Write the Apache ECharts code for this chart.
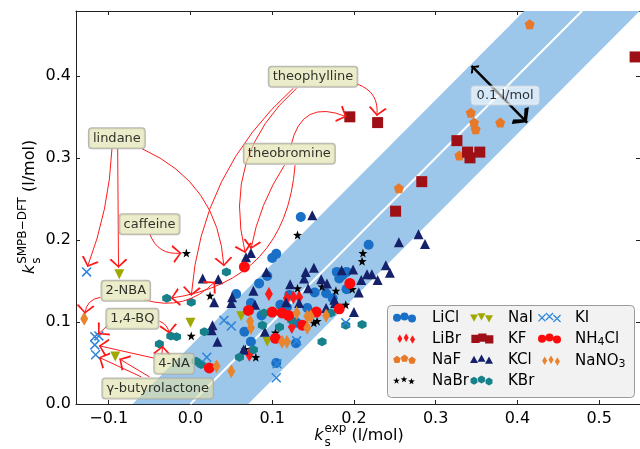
<!DOCTYPE html>
<html><head><meta charset="utf-8">
<script src="https://cdn.jsdelivr.net/npm/echarts@6/dist/echarts.min.js"></script>
<style>html,body{margin:0;padding:0;background:#fff}#c{width:640px;height:449px}</style>
</head><body><div id="c"></div>
<script>
// ---------------- data ----------------
const xTicks = [-0.1, 0.0, 0.1, 0.2, 0.3, 0.4, 0.5];
const yTicks = [0.0, 0.1, 0.2, 0.3, 0.4];
const xRange = [-0.14, 0.55];
const yRange = [0.0, 0.479];
const bandHalfWidth = 0.05; // perpendicular half width (0.1 l/mol total)

const LiCl = [[0.135,0.228],[0.218,0.194],[0.105,0.183],[0.100,0.178],[0.084,0.147],[0.094,0.156],[0.074,0.123],[0.056,0.134],[0.066,0.088],[0.074,0.076],[0.087,0.108],[0.105,0.050],[0.179,0.161],[0.182,0.153],[0.186,0.157],[0.191,0.161],[0.191,0.140],[0.174,0.129],[0.121,0.133],[0.166,0.135],[0.118,0.118],[0.143,0.117],[0.129,0.074],[0.130,0.099],[0.110,0.121],[0.152,0.136]];
const LiBr = [[0.096,0.134],[0.118,0.129],[0.126,0.130],[0.133,0.130],[0.072,0.060],[0.124,0.094]];
const NaF = [[0.415,0.463],[0.343,0.355],[0.347,0.343],[0.349,0.335],[0.379,0.343],[0.329,0.303],[0.255,0.263]];
const NaBr = [[-0.005,0.184],[0.024,0.132],[0.131,0.206],[0.001,0.083],[0.131,0.141],[0.161,0.143],[0.178,0.138],[0.190,0.121],[0.198,0.140],[0.104,0.087],[0.080,0.057],[0.067,0.067],[0.151,0.099],[0.155,0.101],[0.211,0.184],[0.210,0.174]];
const NaI = [[-0.087,0.158],[-0.092,0.058],[0.000,0.099],[0.062,0.107],[0.094,0.076]];
const KF = [[0.544,0.423],[0.195,0.350],[0.229,0.343],[0.326,0.321],[0.339,0.307],[0.342,0.300],[0.354,0.307],[0.283,0.271],[0.251,0.235]];
const KCl = [[0.068,0.179],[0.074,0.184],[0.015,0.153],[0.034,0.152],[0.093,0.161],[0.077,0.138],[0.051,0.130],[0.029,0.124],[0.149,0.230],[0.027,0.096],[0.026,0.090],[0.033,0.076],[0.050,0.123],[0.065,0.066],[0.091,0.088],[0.117,0.124],[0.141,0.161],[0.151,0.166],[0.139,0.153],[0.122,0.146],[0.160,0.152],[0.167,0.147],[0.185,0.163],[0.199,0.164],[0.209,0.151],[0.206,0.136],[0.176,0.127],[0.216,0.158],[0.222,0.158],[0.229,0.151],[0.239,0.169],[0.244,0.160],[0.144,0.141],[0.279,0.207],[0.255,0.197],[0.287,0.195],[0.200,0.112],[0.133,0.123],[0.177,0.123],[0.166,0.117],[0.079,0.121]];
const KBr = [[0.044,0.161],[0.001,0.124],[-0.029,0.129],[-0.024,0.083],[-0.017,0.082],[-0.038,0.073],[0.017,0.088],[0.007,0.052],[0.013,0.048],[0.060,0.057],[0.077,0.066],[0.088,0.096],[0.090,0.111],[0.109,0.094],[0.161,0.076],[0.210,0.097],[0.190,0.096],[0.172,0.111],[0.124,0.102]];
const KI = [[-0.127,0.161],[-0.117,0.082],[-0.112,0.083],[-0.117,0.072],[-0.116,0.060],[0.041,0.102],[0.050,0.095],[0.020,0.057],[0.130,0.077],[0.106,0.049],[0.105,0.032],[0.190,0.099]];
const NH4Cl = [[0.066,0.167],[0.071,0.114],[0.023,0.044],[0.100,0.112],[0.112,0.111],[0.104,0.080],[0.120,0.108],[0.137,0.096],[0.154,0.112],[0.182,0.116],[0.195,0.147]];
const NaNO3 = [[0.073,0.101],[0.074,0.093],[0.032,0.046],[0.050,0.040],[0.112,0.076],[0.118,0.076],[0.130,0.111],[0.143,0.107],[0.147,0.107],[0.166,0.108],[0.143,0.093],[-0.130,0.104]];

// annotation labels: [text, x, y]
const annLabels = [
  ['theophylline', 0.150, 0.399],
  ['lindane', -0.090, 0.324],
  ['theobromine', 0.121, 0.305],
  ['caffeine', -0.050, 0.219],
  ['2-NBA', -0.079, 0.138],
  ['1,4-BQ', -0.071, 0.104],
  ['4-NA', -0.020, 0.049],
  ['γ-butyrolactone', -0.040, 0.019]
];
// annotation arrows: [from, to, curveness]
const annArrows = [
  [[-0.096,0.311],[-0.126,0.167], 0.08],
  [[-0.089,0.311],[-0.088,0.166], 0],
  [[-0.059,0.311],[0.041,0.168], 0.3],
  [[0.204,0.390],[0.228,0.351], 0.4],
  [[0.126,0.385],[0.001,0.132], -0.2],
  [[0.130,0.385],[0.067,0.184], -0.3],
  [[0.115,0.291],[0.074,0.189], -0.1],
  [[0.123,0.315],[0.191,0.350], 0.6],
  [[0.128,0.291],[-0.024,0.129], 0.4],
  [[-0.050,0.208],[-0.011,0.184], -0.4],
  [[-0.110,0.130],[-0.129,0.110], -0.4],
  [[-0.056,0.127],[0.030,0.149], -0.3],
  [[-0.101,0.096],[-0.113,0.085], 0],
  [[-0.038,0.101],[-0.026,0.086], 0.3],
  [[-0.045,0.056],[-0.112,0.071], 0],
  [[-0.035,0.060],[-0.034,0.071], 0],
  [[-0.060,0.033],[-0.112,0.057], 0],
  [[-0.050,0.033],[-0.087,0.055], 0]
];
const widthArrow = [[0.344,0.412],[0.412,0.343]];
const widthLabel = ['0.1 l/mol', 0.385, 0.376];

// ---------------- helpers ----------------
const FONT = '"DejaVu Sans", sans-serif';
function reg(n) {
  const p = [];
  for (let i = 0; i < n; i++) { const a = -Math.PI/2 + i*2*Math.PI/n; p.push([Math.cos(a), Math.sin(a)]); }
  return p;
}
function starPts() {
  const p = [];
  for (let i = 0; i < 10; i++) { const a = -Math.PI/2 + i*Math.PI/5; const r = i%2 ? 0.4 : 1; p.push([r*Math.cos(a), r*Math.sin(a)]); }
  return p;
}
const T = 0.22;
const UNIT = {
  square: [[[-1,-1],[1,-1],[1,1],[-1,1]]],
  triUp: [[[0,-1],[1,0.8],[-1,0.8]]],
  triDown: [[[0,1],[-1,-0.8],[1,-0.8]]],
  diamond: [[[0,-1],[0.6,0],[0,1],[-0.6,0]]],
  pentagon: [reg(5)],
  hexagon: [reg(6)],
  star: [starPts()],
  cross: [[[-1,-1+T],[-1+T,-1],[1,1-T],[1-T,1]], [[1-T,-1],[1,-1+T],[-1+T,1],[-1,1-T]]]
};
function f(v){ return (+v.toFixed(3)); }
function shapePath(shape, cx, cy, r) {
  if (shape === 'circle') {
    return `M${f(cx-r)},${f(cy)}A${f(r)},${f(r)},0,1,0,${f(cx+r)},${f(cy)}A${f(r)},${f(r)},0,1,0,${f(cx-r)},${f(cy)}Z`;
  }
  return UNIT[shape].map(poly => 'M' + poly.map(p => `${f(cx+p[0]*r)},${f(cy+p[1]*r)}`).join('L') + 'Z').join('');
}
function symbolOf(shape) {
  if (shape === 'circle') return 'circle';
  return 'path://' + shapePath(shape, 1, 1, 1);
}
function legendIcon(shape, s, W) {
  const H = s + 3;
  const r = s/2;
  const step = 7.5;
  const cys = [r + 1.3, r, r + 2];
  let d = `M0,0M${W},${H}`;
  for (let i = 0; i < 3; i++) d += shapePath(shape, r + i*step, cys[i], r);
  return 'path://' + d;
}

const SERIES = [
  {name:'LiCl', data:LiCl, shape:'circle', color:'#1a6fc6', size:10, lsize:8},
  {name:'LiBr', data:LiBr, shape:'diamond', color:'#ff1a1a', size:[8,14], lsize:10},
  {name:'NaF', data:NaF, shape:'pentagon', color:'#e8792a', size:10, lsize:8},
  {name:'NaBr', data:NaBr, shape:'star', color:'#000000', size:9, lsize:7},
  {name:'NaI', data:NaI, shape:'triDown', color:'#a0a800', size:10, lsize:8},
  {name:'KF', data:KF, shape:'square', color:'#9e0f16', size:11, lsize:9},
  {name:'KCl', data:KCl, shape:'triUp', color:'#16216b', size:10, lsize:8},
  {name:'KBr', data:KBr, shape:'hexagon', color:'#16818a', size:9, lsize:8},
  {name:'KI', data:KI, shape:'cross', color:'#2f86d8', size:10, lsize:8},
  {name:'NH4Cl', data:NH4Cl, shape:'circle', color:'#ff0a0a', size:11, lsize:8},
  {name:'NaNO3', data:NaNO3, shape:'diamond', color:'#e8842e', size:[8,14], lsize:10}
];

// band polygon: rectangle clipped by half planes
function clipHalf(poly, fn) {
  const out = [];
  for (let i = 0; i < poly.length; i++) {
    const a = poly[i], b = poly[(i+1)%poly.length];
    const fa = fn(a), fb = fn(b);
    if (fa >= 0) out.push(a);
    if ((fa >= 0) !== (fb >= 0)) { const t = fa/(fa-fb); out.push([a[0]+t*(b[0]-a[0]), a[1]+t*(b[1]-a[1])]); }
  }
  return out;
}
const vOff = bandHalfWidth*Math.SQRT2;
let band = [[xRange[0],yRange[0]],[xRange[1],yRange[0]],[xRange[1],yRange[1]],[xRange[0],yRange[1]]];
band = clipHalf(band, p => p[0] + vOff - p[1]);
band = clipHalf(band, p => p[1] - (p[0] - vOff));
const diagLo = Math.max(xRange[0], yRange[0]), diagHi = Math.min(xRange[1], yRange[1]);

function fmt(v) {
  if (Math.abs(v) < 1e-9) return '0.0';
  return (v < 0 ? '\u2212' : '') + Math.abs(v).toFixed(1);
}

const ARROW_RED = 'path://M5,0M5,9L10,17L9,18L5,11L1,18L0,17Z';
const ARROW_BLK = 'path://M6,0M6,12L12,21L10,23L6,16L2,23L0,21Z';

// ---------------- axis titles (graphic text) ----------------
const mctx = document.createElement('canvas').getContext('2d');
function tw(font, t) { mctx.font = font; return mctx.measureText(t).width; }
function axisTitle(sup, cx, cy, rotation) {
  const fMain = '16px ' + FONT, fIt = 'italic 16px ' + FONT, fSmall = '12px ' + FONT;
  const kW = tw(fIt, 'k');
  const sW = Math.max(tw(fSmall, sup), tw(fSmall, 's'));
  const rest = ' (l/mol)';
  const rW = tw(fMain, rest);
  const total = kW + 1 + sW + rW;
  const x0 = -total/2;
  return {
    type:'group', x: cx, y: cy, rotation: rotation, z: 50,
    children: [
      {type:'text', x:x0, y:0, style:{text:'k', font:fIt, fill:'#000', verticalAlign:'middle'}},
      {type:'text', x:x0+kW+1, y:-7, style:{text:sup, font:fSmall, fill:'#000', verticalAlign:'middle'}},
      {type:'text', x:x0+kW+1, y:7, style:{text:'s', font:fSmall, fill:'#000', verticalAlign:'middle'}},
      {type:'text', x:x0+kW+1+sW, y:0, style:{text:rest, font:fMain, fill:'#000', verticalAlign:'middle'}}
    ]
  };
}

// ---------------- option ----------------
const axisLineStyle = {color:'#222', width:1};
const legendCols = [
  {names:['LiCl','LiBr','NaF','NaBr'], left:393, w:34},
  {names:['NaI','KF','KCl','KBr'], left:470, w:33},
  {names:['KI','NH4Cl','NaNO3'], left:538, w:32}
];
const legends = legendCols.map(col => ({
  orient:'vertical', left: col.left, top: 310, padding: 0, itemGap: 5,
  itemWidth: col.w, itemHeight: 11, z: 20,
  selectedMode: false,
  data: col.names.map(n => { const s = SERIES.find(q => q.name === n); return {name:n, icon: legendIcon(s.shape, s.lsize, col.w)}; }),
  formatter: n => n === 'NH4Cl' ? 'NH{s|4}Cl' : n === 'NaNO3' ? 'NaNO{s|3}' : n,
  textStyle: {fontFamily: FONT, fontSize: 15, color:'#000', lineHeight: 16,
    rich: {s: {fontFamily: FONT, fontSize: 11, color:'#000', padding:[7,0,0,0]}}}
}));

const boxLabel = {show:true, position:'inside', formatter:'{b}', fontFamily:FONT, fontSize:13, color:'#000',
  textBorderWidth:0, textBorderColor:'transparent', textShadowBlur:0, lineHeight:14};

const option = {
  animation: false,
  backgroundColor: '#fff',
  grid: {left: 76, right: -2, top: 11, bottom: 45, containLabel: false},
  xAxis: [
    {type:'value', min:xRange[0], max:xRange[1], position:'bottom',
     axisLine:{show:true, onZero:false, lineStyle:axisLineStyle},
     axisTick:{show:true, inside:true, length:4, customValues:xTicks, lineStyle:axisLineStyle},
     axisLabel:{show:true, customValues:xTicks, formatter:fmt, fontFamily:FONT, fontSize:16, color:'#000', margin:7},
     splitLine:{show:false}},
    {type:'value', min:xRange[0], max:xRange[1], position:'top',
     axisLine:{show:true, onZero:false, lineStyle:axisLineStyle},
     axisTick:{show:true, inside:true, length:4, customValues:xTicks, lineStyle:axisLineStyle},
     axisLabel:{show:false}, splitLine:{show:false}}
  ],
  yAxis: [
    {type:'value', min:yRange[0], max:yRange[1], position:'left',
     axisLine:{show:true, onZero:false, lineStyle:axisLineStyle},
     axisTick:{show:true, inside:true, length:4, customValues:yTicks, lineStyle:axisLineStyle},
     axisLabel:{show:true, customValues:yTicks, formatter:fmt, fontFamily:FONT, fontSize:16, color:'#000', margin:5},
     splitLine:{show:false}},
    {type:'value', min:yRange[0], max:yRange[1], position:'right',
     axisLine:{show:true, onZero:false, lineStyle:axisLineStyle},
     axisTick:{show:true, inside:true, length:4, customValues:yTicks, lineStyle:axisLineStyle},
     axisLabel:{show:false}, splitLine:{show:false}}
  ],
  legend: legends,
  graphic: [
    {type:'rect', left: 387, top: 305, shape:{width:247, height:92, r:4}, z: 15,
     style:{fill:'#f2f2f2', stroke:'#9a9a9a', lineWidth:1}},
    axisTitle('exp', 359, 436, 0),
    axisTitle('SMPB\u2212DFT', 30, 207, Math.PI/2)
  ],
  series: [
    {type:'custom', name:'band', silent:true, z:1, data:[[0,0]],
     renderItem: (params, api) => ({type:'polygon', shape:{points: band.map(p => api.coord(p))}, style:{fill:'#9cc7ea'}})},
    {type:'line', name:'diag', silent:true, z:1, symbol:'none', data:[[diagLo,diagLo],[diagHi,diagHi]],
     lineStyle:{color:'#fff', width:2}},
    ...SERIES.map(s => ({
      type:'scatter', name:s.name, data:s.data, symbol:symbolOf(s.shape), symbolSize:s.size,
      itemStyle:{color:s.color, opacity:1}, z:3, silent:true
    })),
    {type:'lines', name:'arrows', coordinateSystem:'cartesian2d', z:5, silent:true,
     symbol:['none', ARROW_RED], symbolSize:[10,18],
     lineStyle:{color:'#ff1a1a', width:1, opacity:1},
     data: annArrows.map(a => ({coords:[a[0], a[1]], lineStyle:{curveness:a[2]}}))},
    {type:'lines', name:'width', coordinateSystem:'cartesian2d', z:5, silent:true,
     symbol:[ARROW_BLK, ARROW_BLK], symbolSize:[12,24],
     lineStyle:{color:'#000', width:2.5, opacity:1},
     data: [{coords: widthArrow}]},
    {type:'scatter', name:'labels', z:8, silent:true, symbolSize:1, itemStyle:{color:'rgba(0,0,0,0)'},
     data: annLabels.map(l => ({name:l[0], value:[l[1], l[2]]})),
     label:Object.assign({}, boxLabel, {backgroundColor:'rgba(222,224,170,0.78)', borderColor:'#a5a5a5', borderWidth:1, borderRadius:3, padding:[3,4,3,4]})},
    {type:'scatter', name:'wlabel', z:8, silent:true, symbolSize:1, itemStyle:{color:'rgba(0,0,0,0)'},
     data: [{name: widthLabel[0], value:[widthLabel[1], widthLabel[2]]}],
     label:Object.assign({}, boxLabel, {backgroundColor:'rgba(255,255,255,0.75)', borderColor:'#d0d8e0', borderWidth:1, borderRadius:3, padding:[2,5,2,5]})}
  ]
};
const chart = echarts.init(document.getElementById('c'));
chart.setOption(option);
</script>
</body></html>
